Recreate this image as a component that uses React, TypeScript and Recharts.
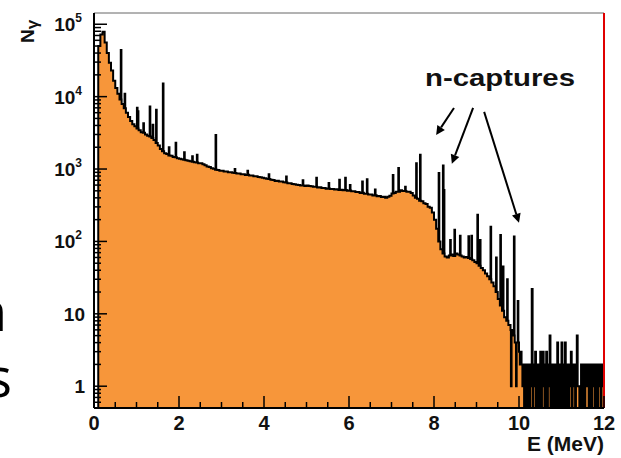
import React from "react";
import { AreaChart, Area, XAxis, YAxis, ReferenceLine } from "recharts";

// gamma spectrum, counts per bin
const BODY_STEP = 0.05; // MeV, bins 0 .. 10
const TAIL_START = 10;
const TAIL_STEP = 0.02; // MeV, bins 10 .. 12
const LINE_WIDTH = 0.015; // narrow bins for the capture lines
const Y_MIN = 0.5;
const Y_MAX = 143000;

const bodyCounts = [
  0, 0, 50000, 72000, 79000, 56000, 40000, 29500, 23000, 16600, 13200, 11000, 9100, 7900, 6900, 6000, 5250, 4600, 4150, 3900,
  3630, 3420, 3230, 3160, 3010, 2880, 2820, 2690, 2520, 2290, 2110, 1890, 1760, 1650, 1610, 1540, 1520, 1470, 1460, 1410,
  1390, 1362, 1345, 1322, 1305, 1282, 1262, 1243, 1231, 1205, 1198, 1160, 1125, 1082, 1066, 1024, 1006, 978, 966, 945,
  945, 922, 928, 905, 903, 890, 884, 866, 869, 850, 845, 830, 834, 812, 814, 796, 793, 776, 772, 758,
  748, 732, 728, 711, 703, 686, 688, 671, 673, 656, 652, 636, 638, 621, 618, 605, 603, 592, 591, 582,
  590, 581, 580, 568, 569, 556, 558, 548, 549, 536, 539, 528, 531, 521, 525, 514, 518, 508, 512, 502,
  505, 494, 493, 481, 481, 466, 469, 455, 456, 444, 446, 431, 434, 420, 424, 410, 414, 402, 413, 428,
  458, 466, 484, 486, 508, 496, 499, 486, 484, 466, 432, 401, 388, 366, 358, 336, 328, 301, 292, 250,
  200, 150, 100, 78, 68, 62, 60, 64, 66, 63, 68, 66, 64, 62, 60, 61, 59, 57, 55, 52,
  50, 46, 43, 40, 36, 33, 30, 27, 24, 20, 16, 13, 11, 9, 8, 7, 6, 5, 4, 4,
];

const tailCounts = [
  3, 2, 3, 2, 1,
  2, 0, 1, 2, 0, 2, 1, 0, 2, 1,
  22,
  0, 2, 1, 3, 0, 2, 1, 0, 2,
  3, 0, 1, 3, 2, 0, 1, 3, 0, 2,
  1, 5, 0, 2, 1, 0, 2, 1, 0, 2,
  4, 0, 1, 2, 0, 4, 1, 0, 2, 4,
  0, 2, 1, 0, 2, 1, 3, 0, 2, 1,
  2, 0, 1, 5, 1, 1, 0, 1, 2, 0,
  2, 1, 0, 2, 1, 2, 2, 0, 2, 1,
  0, 2, 1, 2, 0, 2, 1, 0, 2, 1,
  2, 0, 2, 1, 2,
];

// [E (MeV), counts] of single narrow lines
const lines: [number, number][] = [
  [0.63, 44000], [0.72, 11000], [1.01, 7000], [1.03, 6300], [1.16, 4300], [1.31, 7300],
  [1.38, 4100], [1.46, 6600], [1.62, 15200], [1.76, 2000], [1.92, 2300], [2.12, 1700],
  [2.31, 1500], [2.42, 1580], [2.86, 2950], [3.31, 1000], [3.61, 950], [4.11, 850],
  [4.52, 790], [4.91, 700], [5.23, 760], [5.52, 640], [5.77, 710], [5.91, 760],
  [6.02, 600], [6.31, 675], [6.42, 720], [6.61, 520], [7.03, 830], [7.16, 1030],
  [7.32, 570], [7.58, 1200], [7.67, 1580], [8.11, 880], [8.21, 1120], [8.23, 515],
  [8.38, 105], [8.48, 145], [8.61, 120], [8.81, 118], [8.88, 120], [9.02, 234],
  [9.08, 105], [9.33, 160], [9.46, 60], [9.56, 123], [9.62, 45], [9.72, 30],
  [9.81, 1], [9.88, 117], [9.93, 1], [9.97, 15],
];

const xTicks = [0, 0.5, 1, 1.5, 2, 2.5, 3, 3.5, 4, 4.5, 5, 5.5, 6, 6.5, 7, 7.5, 8, 8.5, 9, 9.5, 10, 10.5, 11, 11.5, 12];
const xLabels = [0, 2, 4, 6, 8, 10, 12];
const yTicks = [
  0.6, 0.7, 0.8, 0.9, 1, 2, 3, 4, 5, 6, 7, 8, 9,
  10, 20, 30, 40, 50, 60, 70, 80, 90,
  100, 200, 300, 400, 500, 600, 700, 800, 900,
  1000, 2000, 3000, 4000, 5000, 6000, 7000, 8000, 9000,
  10000, 20000, 30000, 40000, 50000, 60000, 70000, 80000, 90000, 100000,
];
// value, base text, exponent
const yLabels: [number, string, string][] = [
  [1, "1", ""], [10, "10", ""], [100, "10", "2"], [1000, "10", "3"], [10000, "10", "4"], [100000, "10", "5"],
];

// [E tail, N tail, E head, N head]
const captureArrows: [number, number, number, number][] = [
  [8.47, 6980, 8.05, 2960],
  [8.92, 6980, 8.42, 1180],
  [9.18, 6150, 10.0, 181],
];

const ORANGE = "#F7963A";
const FONT = "'Liberation Sans', Arial, Helvetica, sans-serif";

type Bin = { e: number; n: number };
const bins: Bin[] = [];
bodyCounts.forEach((n, i) => bins.push({ e: +(i * BODY_STEP).toFixed(3), n }));
tailCounts.forEach((n, i) => bins.push({ e: +(TAIL_START + i * TAIL_STEP).toFixed(3), n }));
lines.forEach(([e, n]) => {
  const under = bodyCounts[Math.floor(e / BODY_STEP + 1e-6)];
  bins.push({ e, n }, { e: +(e + LINE_WIDTH).toFixed(3), n: under });
});
bins.sort((a, b) => a.e - b.e);
bins.push({ e: 12, n: tailCounts[tailCounts.length - 1] });
// empty bins sit on the bottom of the log axis
const table = bins.map((b) => ({ e: b.e, n: Math.max(b.n, Y_MIN) }));

function XTick(props: any) {
  const { x, y, payload } = props;
  const v = payload.value as number;
  const major = xLabels.includes(v);
  return (
    <g>
      <line x1={x} x2={x} y1={y} y2={y - (major ? 12 : 6)} stroke="#000" strokeWidth={1.5} />
      {major && (
        <text x={x} y={y + 22} textAnchor="middle" fontFamily={FONT} fontWeight="bold" fontSize={20} fill="#111">
          {v}
        </text>
      )}
    </g>
  );
}

function YTick(props: any) {
  const { x, y, payload } = props;
  const v = payload.value as number;
  const lab = yLabels.find((l) => Math.abs(l[0] - v) < 1e-6 * v);
  return (
    <g>
      <line x1={x} x2={x + (lab ? 13 : 7)} y1={y} y2={y} stroke="#000" strokeWidth={1.5} />
      {lab && (
        <text x={lab[2] ? 82 : 85} y={y + 7} textAnchor="end" fontFamily={FONT} fontWeight="bold" fontSize={19} fill="#111">
          {lab[1]}
          {lab[2] && (
            <tspan fontSize={12} dy={-9}>
              {lab[2]}
            </tspan>
          )}
        </text>
      )}
    </g>
  );
}

function ArrowShape(p: any) {
  const { x1, y1, x2, y2 } = p;
  const ang = Math.atan2(y2 - y1, x2 - x1);
  const L = 9;
  const W = 4.5;
  const bx = x2 - L * Math.cos(ang);
  const by = y2 - L * Math.sin(ang);
  const px = -Math.sin(ang) * W;
  const py = Math.cos(ang) * W;
  return (
    <g>
      <line x1={x1} y1={y1} x2={bx} y2={by} stroke="#000" strokeWidth={2} />
      <polygon points={`${x2},${y2} ${bx + px},${by + py} ${bx - px},${by - py}`} fill="#000" />
    </g>
  );
}

export default function App() {
  return (
    <div style={{ position: "absolute", left: 0, top: 0, width: 621, height: 458, background: "#fff" }}>
      <AreaChart width={621} height={458} data={table} margin={{ top: 13, right: 17, left: 0, bottom: 0 }}>
        <Area
          type="stepAfter"
          dataKey="n"
          baseValue="dataMin"
          stroke="#000"
          strokeWidth={2}
          fill={ORANGE}
          fillOpacity={1}
          isAnimationActive={false}
          dot={false}
          activeDot={false}
        />
        <ReferenceLine y={Y_MAX} stroke="#666" strokeWidth={1} />
        <ReferenceLine x={12} stroke="#e00000" strokeWidth={2} />
        {captureArrows.map(([ea, na, eb, nb], i) => (
          <ReferenceLine
            key={i}
            segment={[
              { x: ea, y: na },
              { x: eb, y: nb },
            ]}
            shape={ArrowShape}
          />
        ))}
        <XAxis
          dataKey="e"
          type="number"
          domain={[0, 12]}
          ticks={xTicks}
          interval={0}
          height={50}
          tickSize={0}
          tickMargin={0}
          tickLine={false}
          axisLine={{ stroke: "#000", strokeWidth: 2 }}
          tick={XTick}
          allowDataOverflow
        />
        <YAxis
          type="number"
          scale="log"
          domain={[Y_MIN, Y_MAX]}
          ticks={yTicks}
          interval={0}
          width={94}
          tickSize={0}
          tickMargin={0}
          tickLine={false}
          axisLine={{ stroke: "#000", strokeWidth: 2 }}
          tick={YTick}
          allowDataOverflow
        />
      </AreaChart>
      <svg width={621} height={458} style={{ position: "absolute", left: 0, top: 0, pointerEvents: "none" }}>
        <text transform="translate(34,43) rotate(-90)" fontFamily={FONT} fontWeight="bold" fontSize={19} fill="#111">
          N
          <tspan dy={4} fontSize={17}>
            γ
          </tspan>
        </text>
        <text x={425} y={86} fontFamily={FONT} fontWeight="bold" fontSize={23} textLength={150} lengthAdjust="spacingAndGlyphs" fill="#111">
          n-captures
        </text>
        <text x={604} y={451} textAnchor="end" fontFamily={FONT} fontWeight="bold" fontSize={21} fill="#111">
          E (MeV)
        </text>
        <text x={7} y={331} textAnchor="end" fontFamily="'Open Sans', sans-serif" fontSize={54} fill="#000">
          n
        </text>
        <text x={12} y={397} textAnchor="end" fontFamily="'Open Sans', sans-serif" fontSize={54} fill="#000">
          s
        </text>
      </svg>
    </div>
  );
}
